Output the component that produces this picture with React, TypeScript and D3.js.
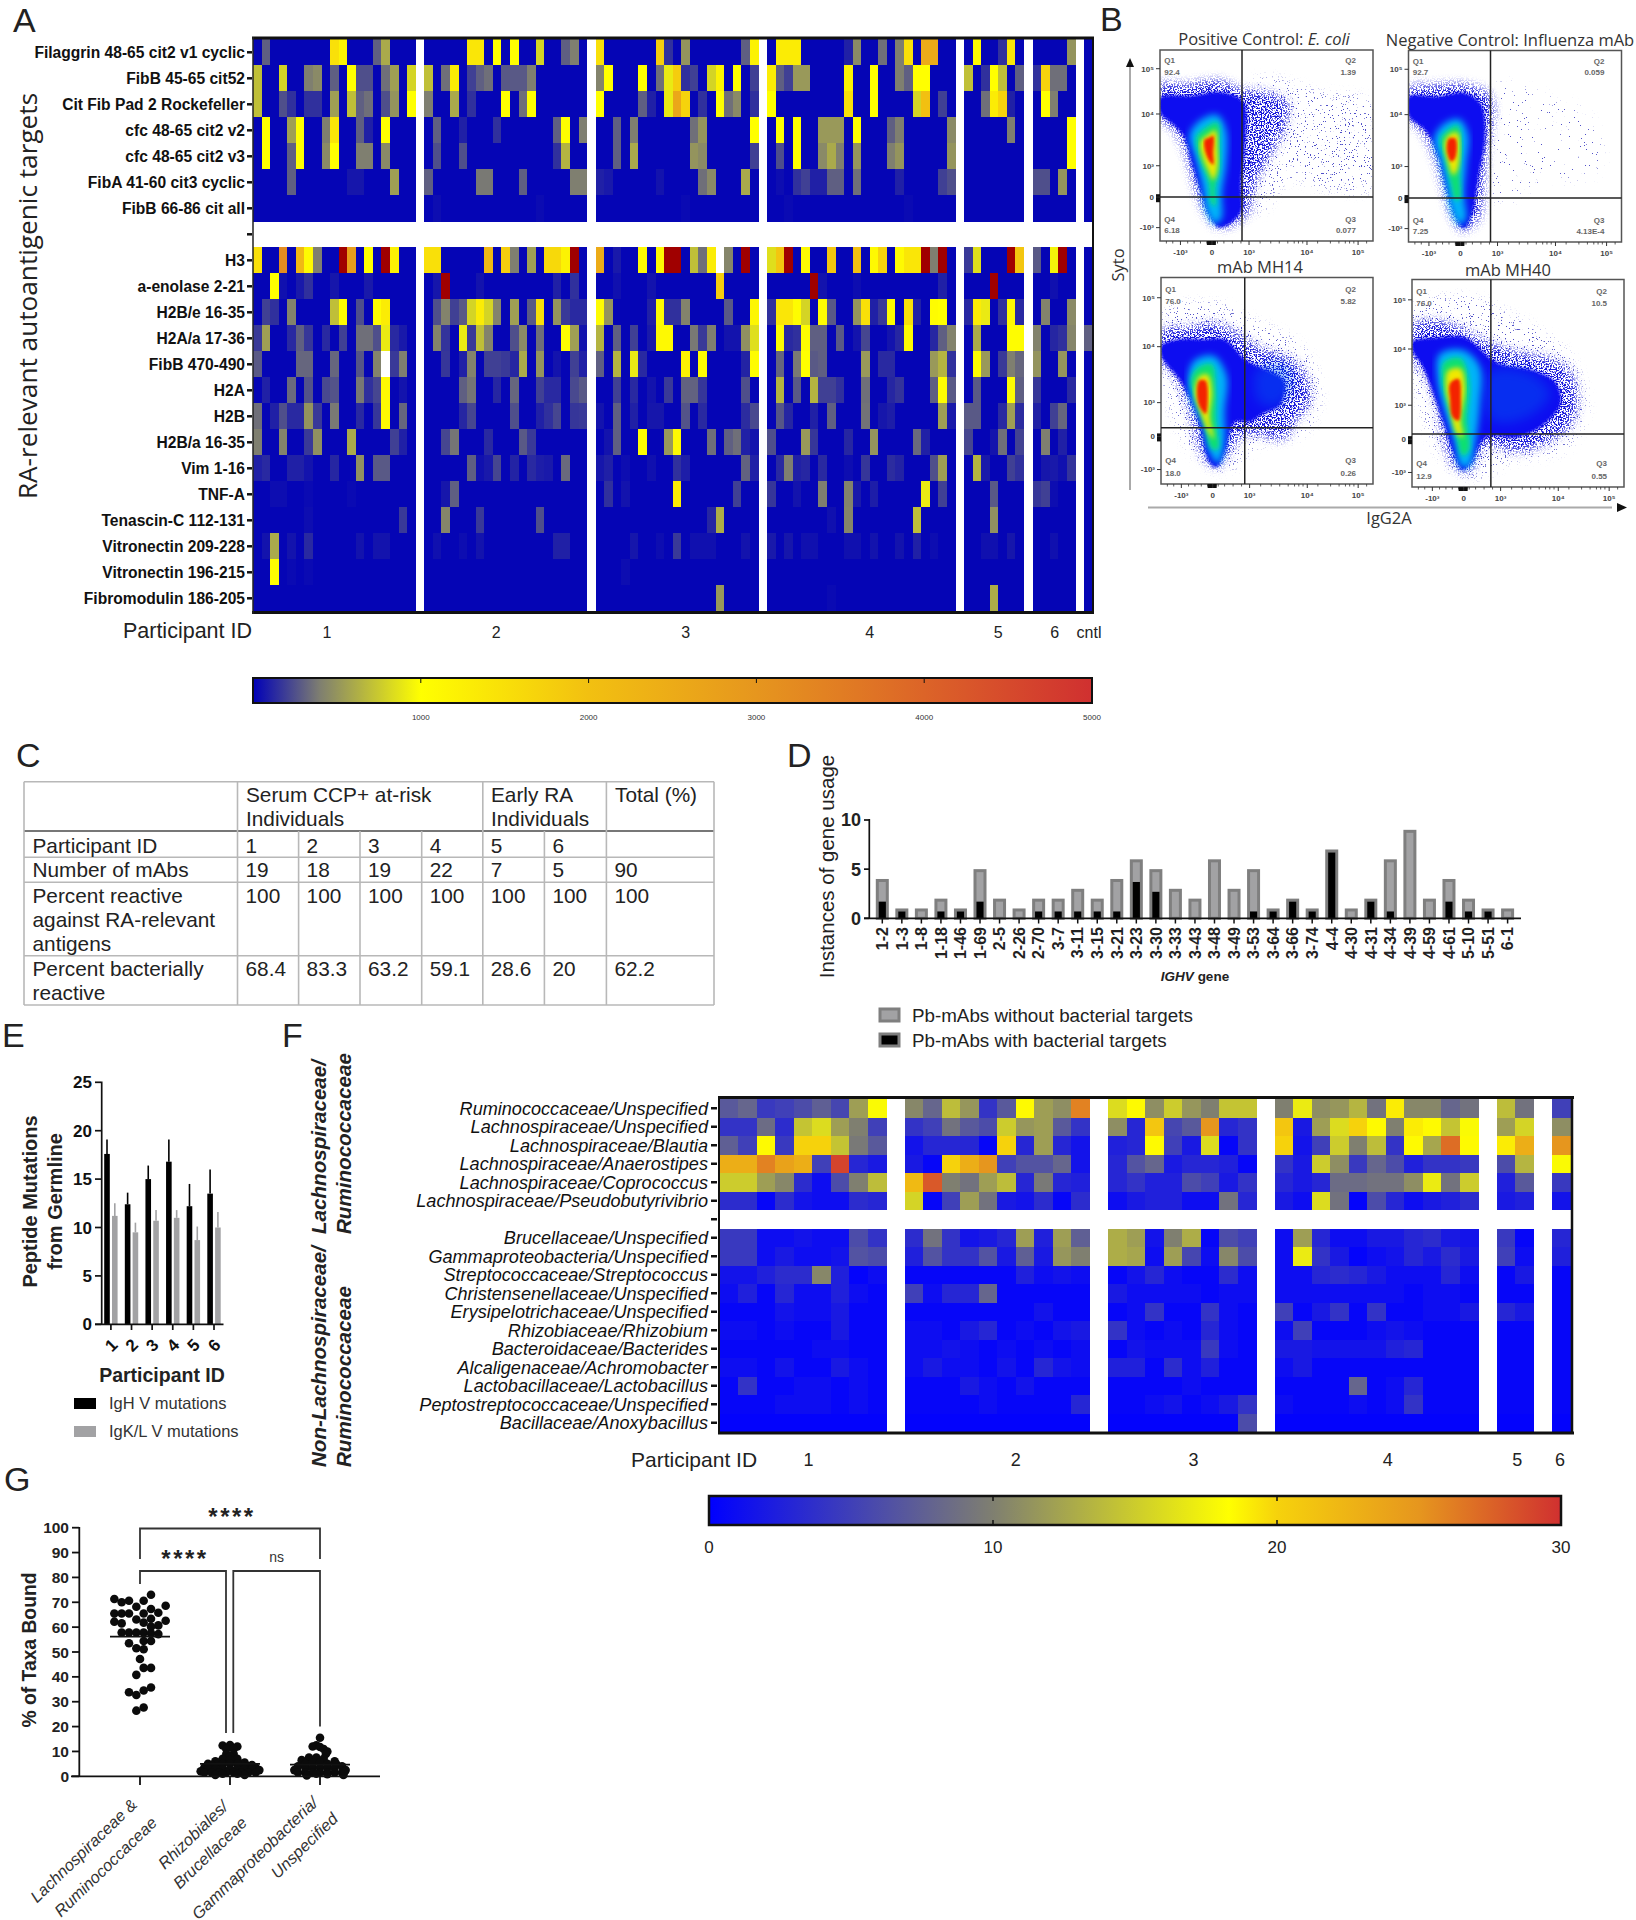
import * as d3 from 'd3';

const sans = '"Liberation Sans", Arial, sans-serif';
const narrow = '"Liberation Sans Narrow", "Liberation Sans", sans-serif';
const open = '"Open Sans", sans-serif';

// ---- Panel A: RA-relevant autoantigen heatmap (sparse: [slot, value], everything else is background) ----
const aBackground = 15;
const DARK = 6000; // above the colour bar
const WHITE = 9000; // blank cell
const filaggrin = [[1,300],[9,1500],[10,1200],[14,300],[15,600],[25,1400],[26,1400],[28,1000],[30,1000],[33,800],[36,300],[37,400],[40,1500],[47,1800],[48,150],[50,500],[57,300],[58,1200],[61,1300],[62,1300],[63,1300],[69,100],[70,450],[73,350],[75,400],[76,1500],[78,2500],[79,2500],[84,1100],[87,150],[88,1400],[95,500]];
const fibB45 = [[0,700],[3,800],[6,400],[7,450],[9,300],[11,1000],[12,250],[13,250],[15,350],[16,550],[18,800],[20,700],[22,350],[23,1300],[25,200],[26,300],[27,350],[29,280],[30,280],[31,280],[32,400],[40,420],[41,1000],[45,1000],[47,350],[48,900],[49,1800],[50,150],[51,200],[53,800],[54,1200],[56,1000],[58,200],[60,1300],[61,300],[62,200],[63,520],[64,520],[69,1200],[72,1000],[75,400],[76,300],[77,1000],[78,1000],[83,700],[85,150],[86,1000],[87,700],[89,300],[91,150],[92,1700],[93,350],[94,350]];
const citFib = [[0,700],[3,250],[4,150],[6,150],[7,150],[9,550],[11,700],[12,300],[13,350],[15,250],[16,500],[18,1000],[20,400],[23,600],[25,150],[29,1000],[31,350],[32,1000],[40,1000],[45,300],[46,100],[48,900],[49,2600],[50,1700],[52,150],[54,1000],[55,350],[56,450],[58,150],[60,1000],[69,1500],[72,1000],[77,800],[78,2000],[80,200],[85,350],[86,1300],[87,1700],[88,100],[92,1000],[93,400]];
const cfcV2 = [[1,1000],[4,550],[5,1000],[8,400],[9,1400],[12,300],[13,100],[15,1000],[21,300],[24,100],[28,150],[35,300],[36,1000],[38,400],[42,300],[44,400],[51,350],[52,500],[58,1000],[61,1000],[63,1000],[66,520],[67,520],[68,520],[70,1000],[74,300],[75,400],[81,450],[88,400],[95,1000]];
const cfcV3 = [[1,1000],[4,300],[5,1000],[8,450],[9,1000],[12,400],[13,400],[15,450],[21,250],[24,250],[35,150],[36,650],[42,300],[44,600],[51,500],[52,450],[58,200],[61,250],[63,1000],[66,450],[67,600],[68,400],[70,500],[74,400],[75,500],[81,500],[95,1000]];
const fibA41 = [[4,300],[11,70],[12,70],[16,550],[20,300],[26,380],[27,380],[31,300],[37,400],[38,400],[40,100],[41,80],[47,60],[52,350],[53,450],[57,600],[61,40],[63,150],[64,200],[65,100],[66,100],[67,300],[68,300],[70,350],[75,100],[80,200],[81,250],[91,250],[92,250],[94,500]];
const fibB66 = [[21,40],[33,35],[50,30],[62,30],[76,30]];
const h3 = [[0,1500],[3,3200],[5,2200],[6,1100],[7,400],[10,DARK],[11,2800],[13,1000],[15,DARK],[16,1200],[20,1500],[21,1500],[27,2200],[29,1800],[30,400],[32,550],[34,1600],[35,1600],[36,1200],[37,DARK],[40,2500],[42,80],[45,1100],[47,1100],[48,DARK],[49,DARK],[51,700],[52,350],[53,1300],[54,WHITE],[55,430],[57,DARK],[60,850],[61,1900],[62,DARK],[64,1100],[67,1900],[70,2000],[72,1100],[73,1700],[75,1100],[76,1400],[77,1400],[78,DARK],[79,400],[80,DARK],[83,180],[84,850],[88,DARK],[89,1900],[91,280],[93,950],[94,DARK]];
const enolase = [[2,1000],[3,50],[5,80],[6,150],[9,70],[13,80],[21,70],[22,DARK],[26,60],[35,100],[37,150],[42,50],[46,60],[54,1800],[65,DARK],[66,60],[70,40],[80,100],[86,DARK],[93,50]];
const h2bE = [[1,200],[2,150],[4,420],[9,700],[10,1050],[12,250],[14,1050],[15,1300],[21,250],[22,420],[23,200],[24,280],[25,800],[26,1300],[27,800],[28,420],[30,550],[32,280],[33,1500],[35,500],[36,180],[37,130],[38,130],[40,1050],[41,500],[46,100],[47,1050],[48,150],[49,150],[50,420],[55,280],[58,1150],[60,150],[61,1400],[62,1400],[63,1050],[64,800],[66,1050],[67,280],[70,500],[71,1500],[72,100],[73,180],[74,1050],[76,1500],[77,100],[79,1050],[80,1000],[83,120],[84,1300],[85,900],[87,150],[88,1100],[89,130],[92,420],[95,450]];
const h2aA = [[0,180],[1,550],[4,130],[5,300],[6,170],[8,130],[10,200],[12,350],[13,350],[14,250],[15,900],[16,130],[17,80],[21,420],[22,160],[24,900],[25,180],[26,700],[27,420],[30,250],[31,450],[33,350],[36,1050],[37,550],[38,60],[40,650],[42,300],[44,200],[46,80],[47,1100],[48,1100],[51,380],[52,180],[53,400],[55,60],[56,60],[57,480],[58,850],[61,1050],[62,130],[63,150],[64,1050],[65,300],[66,300],[68,280],[70,60],[71,220],[74,60],[75,120],[76,1050],[79,120],[80,300],[81,420],[84,600],[88,1050],[89,1050],[91,420],[93,120],[94,150],[95,430],[97,300]];
const fibB470 = [[0,280],[5,320],[6,320],[9,320],[12,270],[14,420],[15,WHITE],[16,180],[17,400],[22,170],[24,100],[25,420],[27,200],[28,200],[29,180],[30,120],[31,600],[33,500],[35,60],[37,200],[38,100],[40,300],[42,650],[44,900],[45,130],[50,1200],[52,1050],[57,110],[58,1050],[61,320],[63,380],[64,1000],[65,280],[66,300],[71,520],[73,130],[74,130],[79,520],[80,650],[81,150],[84,1050],[85,520],[87,180],[88,400],[89,320],[91,500],[94,500]];
const h2a = [[1,100],[4,330],[6,260],[8,230],[9,260],[12,380],[13,150],[14,220],[15,1100],[17,60],[24,300],[25,370],[28,120],[30,320],[33,200],[34,130],[35,130],[37,230],[38,280],[42,200],[44,130],[46,60],[48,180],[50,310],[51,310],[52,170],[57,250],[61,650],[63,280],[65,650],[66,200],[67,200],[68,150],[71,350],[74,120],[75,160],[79,300],[80,1050],[81,280],[84,280],[88,1050],[89,300],[91,170],[95,130]];
const h2b = [[0,350],[2,100],[3,250],[4,130],[5,130],[6,500],[7,180],[9,380],[12,130],[14,170],[15,1100],[17,320],[24,120],[25,220],[30,250],[33,100],[34,150],[35,220],[37,170],[38,180],[40,60],[42,300],[44,100],[46,70],[47,70],[50,260],[52,130],[57,140],[58,230],[61,270],[62,120],[65,100],[67,300],[71,360],[73,70],[74,90],[80,550],[81,80],[83,280],[84,280],[87,130],[88,550],[89,140],[91,100],[93,200],[94,320]];
const h2bA = [[0,400],[3,420],[6,180],[7,480],[11,600],[16,200],[17,100],[22,220],[23,370],[27,130],[31,280],[32,180],[41,60],[42,300],[45,1050],[48,520],[49,1100],[53,350],[55,300],[56,350],[57,100],[58,60],[60,250],[64,520],[65,170],[69,120],[72,500],[77,330],[78,100],[83,220],[86,60],[87,350],[89,210],[92,400],[94,100]];
const vim = [[0,100],[1,130],[4,100],[5,100],[6,60],[9,120],[12,480],[14,280],[15,280],[25,300],[26,50],[27,80],[28,220],[30,110],[32,130],[33,90],[34,80],[36,330],[40,70],[41,100],[43,40],[46,50],[49,150],[50,90],[57,310],[58,100],[61,130],[62,400],[63,100],[64,120],[66,130],[69,40],[71,170],[74,140],[75,110],[79,250],[80,550],[84,650],[85,80],[88,200],[89,150],[92,70],[93,80],[94,50],[95,160]];
const tnfA = [[2,40],[3,40],[6,30],[11,30],[22,70],[23,300],[41,150],[43,60],[49,1300],[56,200],[60,170],[63,60],[66,400],[69,420],[70,80],[72,90],[78,900],[80,200],[86,280],[91,170],[92,200],[93,40]];
const tenascin = [[6,40],[17,180],[22,430],[26,180],[33,250],[53,120],[54,620],[67,50],[69,430],[77,700],[86,480]];
const vitro209 = [[1,60],[2,600],[4,60],[6,130],[12,60],[14,60],[15,60],[21,50],[24,40],[26,60],[35,100],[36,100],[44,70],[47,40],[49,180],[51,50],[52,50],[53,50],[57,60],[60,80],[62,70],[64,50],[65,50],[69,50],[70,50],[72,60],[75,60],[77,100],[79,40],[85,50],[86,50],[88,70],[93,50]];
const vitro196 = [[2,1050],[4,30],[6,30],[43,40]];
const fibromodulin = [[54,520],[67,30],[86,620]];

const aRows = [
  { label: 'Filaggrin 48-65 cit2 v1 cyclic', cells: filaggrin },
  { label: 'FibB 45-65 cit52', cells: fibB45 },
  { label: 'Cit Fib Pad 2 Rockefeller', cells: citFib },
  { label: 'cfc 48-65 cit2 v2', cells: cfcV2 },
  { label: 'cfc 48-65 cit2 v3', cells: cfcV3 },
  { label: 'FibA 41-60 cit3 cyclic', cells: fibA41 },
  { label: 'FibB 66-86 cit all', cells: fibB66 },
  { label: '', cells: null },
  { label: 'H3', cells: h3 },
  { label: 'a-enolase 2-21', cells: enolase },
  { label: 'H2B/e 16-35', cells: h2bE },
  { label: 'H2A/a 17-36', cells: h2aA },
  { label: 'FibB 470-490', cells: fibB470 },
  { label: 'H2A', cells: h2a },
  { label: 'H2B', cells: h2b },
  { label: 'H2B/a 16-35', cells: h2bA },
  { label: 'Vim 1-16', cells: vim },
  { label: 'TNF-A', cells: tnfA },
  { label: 'Tenascin-C 112-131', cells: tenascin },
  { label: 'Vitronectin 209-228', cells: vitro209 },
  { label: 'Vitronectin 196-215', cells: vitro196 },
  { label: 'Fibromodulin 186-205', cells: fibromodulin },
];
const aGroupSizes = [19, 19, 19, 22, 7, 5, 1];
const aGroupNames = ['1', '2', '3', '4', '5', '6', 'cntl'];
const aGroupLabelSlots = [8.64, 28.4, 50.5, 72, 87, 93.6, 97.6];
const aBarTicks = [1000, 2000, 3000, 4000, 5000];
const aColorStops = [0, 400, 1000, 2000, 3000, 4000, 5000];
const aColors = ['#0000b8', '#7f7f70', '#ffff00', '#f2c011', '#e6961e', '#dc6428', '#d03030'];

// ---- Panel F: taxa heatmap (dense, one value per mAb) ----
const fLabels = ['Ruminococcaceae/Unspecified', 'Lachnospiraceae/Unspecified', 'Lachnospiraceae/Blautia', 'Lachnospiraceae/Anaerostipes', 'Lachnospiraceae/Coprococcus', 'Lachnospiraceae/Pseudobutyrivibrio', '', 'Brucellaceae/Unspecified', 'Gammaproteobacteria/Unspecified', 'Streptococcaceae/Streptococcus', 'Christensenellaceae/Unspecified', 'Erysipelotrichaceae/Unspecified', 'Rhizobiaceae/Rhizobium', 'Bacteroidaceae/Bacterides', 'Alcaligenaceae/Achromobacter', 'Lactobacillaceae/Lactobacillus', 'Peptostreptococcaceae/Unspecified', 'Bacillaceae/Anoxybacillus'];
const fRuminoUnspec = [7,8,4.5,5,6,7.5,5.5,12,18, 10.5,8,14,11.5,4,7,18.5,12,11,26, 16,18.5,11,15,11.5,10,14.5,14.5, 10,17,11,11.5,13.5,9,19,10.5,10.5,8,9, 14,9, 5];
const fLachnoUnspec = [4,4,8.5,3.5,14.5,16,12,10,5, 4,5,9,7,6,15,11.5,12,7,4, 11,3,21,5.5,7,25,3,4, 21,2,12,16,20,18.5,10,19,18.5,14.5,18, 12,15.5, 11];
const fBlautia = [7.5,5,18.5,4.5,20,20,14.5,9.5,7, 1.5,3,3,3,0.5,20,3,12,3,1.5, 2.5,3,18.5,5,2,16,0.5,4, 20,1.5,5,15,10,14,4,18.5,12.5,27,18.5, 19,23, 25];
const fAnaerostipes = [23,23,26,24,23,5,29,3,2, 2,0.5,20,23,25,5,6.5,6.5,8,1.5, 3,6.5,8,2,3,3,2.5,0.5, 4,2,15,11,4.5,8,6,2.5,4,4,4.5, 6,13.5, 18];
const fCoprococcus = [15,15,12,10.5,3.5,1,6,10,14, 22,28,10,9,12,14,3,9.5,3,2.5, 3,4,2.5,2.5,6,5,2,4, 3,2,3,8.5,8.5,9,9,11,17,9,15, 2.5,7, 4.5];
const fPseudo = [3.5,3.5,0.5,3.5,1.5,1,1,3.5,3, 15.5,0.5,5,12,9,2,1.5,3.5,0.5,3.5, 1,2,2.5,2.5,1,1,9,3, 2,1,16,9,0.3,6,3,1,2,2.5,3.5, 2,2.5, 1.5];
const fBrucella = [4.5,4.5,1,1,1.5,1,1,6,4, 3.5,9,4,1.5,2,3,12,2.5,12,7.5, 13,12,1.5,10,13,0.5,6,5, 1,12,3,1,1,2,2,3,3.5,2,1.5, 4.5,0.5, 3];
const fGamma = [4.5,4.5,1,2,1,1,1.5,6.5,6, 2.5,6.5,4,4,6.5,2,7.5,2,11.5,10, 13,12.5,1,12,5.5,1,10.5,6, 1,17,4,2,0.3,1,1.5,3,2,3.5,2, 5,1, 2.5];
const fStrepto = [1.5,1.5,2.5,3.5,3.5,10.5,2.5,0.3,1, 0.5,0.5,0.5,0.5,0.5,0.5,2.5,1,1.5,1, 0.5,1.5,3,1,0.5,0.5,3.5,1, 1,1,3,3.5,3,2,1,1,1,3,1, 0.5,2, 0.5];
const fChristen = [1,2.5,0.5,3,1,1,2.5,1,0.5, 5,1,3,3,8,0.5,0.5,0.5,0.5,0.5, 2,1,1,1,1,0.5,1,1, 1,1,1,1,1,1,1,0.5,1,1,0.5, 0.5,0.5, 0.5];
const fErysip = [0.5,0.5,0.5,1.5,1,1,2,0.5,0.5, 0.5,0.5,0.5,0.5,0.5,0.5,0.5,1.5,0.5,0.5, 0.5,1,4,0.5,0.5,4,1,0.5, 5,0.5,2,4,0.5,4,0.5,0.5,1,1,2, 3,2, 0.5];
const fRhizob = [1,1,0.5,1,0.5,0.5,2,0.5,0.5, 1,1,0.5,2,3,0.5,1,0.5,1.5,2, 4,1,0.5,1,0.5,3,1,0.5, 1,5,0.5,0.5,0.5,1,1.5,1,0.5,0.5,0.5, 0.5,0.5, 0.5];
const fBacter = [0.5,0.5,0.5,0.5,0.5,1,1,0.5,0.5, 1,1,1.5,1,0.5,1,0.5,1,0.5,1, 0.5,1.5,1,1,1,4.5,1,0.5, 2,2,1.5,1.5,1.5,1.5,2.5,3,0.5,0.5,0.5, 0.5,0.5, 0.5];
const fAlcalig = [1,1,0.5,1.5,0.5,0.5,2,1,0.5, 1,2,1,1,0.5,1.5,0.5,3,1.5,1, 2.5,2.5,0.5,3.5,1,2.5,0.5,0.5, 1,2,0.5,0.5,0.5,0.5,0.5,0.5,0.5,0.5,0.5, 0.5,0.5, 0.5];
const fLacto = [0.5,4,0.5,0.5,1,1,0.5,1,0.5, 0.5,0.5,0.5,2,1,0.5,1.5,0.5,0.5,0.5, 0.5,0.5,0.5,0.5,1,0.5,0.5,0.5, 0.5,0.5,0.5,0.5,8,0.5,1,3,0.5,0.5,0.5, 0.5,0.5, 0.5];
const fPepto = [0.5,0.5,0.5,1,1,1,0.5,1,0.5, 0.5,0.5,0.5,0.5,1,0.5,0.5,0.5,0.5,3, 0.5,0.5,1,1.5,0.5,1,2,4, 1,0.5,0.5,0.5,1,0.5,1,4,0.5,0.5,0.5, 0.5,0.5, 0.5];
const fBacill = [0.2,0.2,0.2,0.2,0.2,0.2,0.2,0.2,0.2, 0.2,0.2,0.2,0.2,0.2,0.2,0.2,0.2,0.2,0.2, 0.2,0.2,0.2,0.2,0.2,0.2,0.2,6, 0.2,0.2,0.2,0.2,0.2,0.2,0.2,0.2,0.2,0.2,0.2, 0.2,0.2, 0.2];
const fValues = [fRuminoUnspec, fLachnoUnspec, fBlautia, fAnaerostipes, fCoprococcus, fPseudo, null, fBrucella, fGamma, fStrepto, fChristen, fErysip, fRhizob, fBacter, fAlcalig, fLacto, fPepto, fBacill];
const fGroupSizes = [9, 10, 8, 11, 2, 1];
const fGroupNames = ['1', '2', '3', '4', '5', '6'];
const fGroupLabelSlots = [4.8, 16, 25.6, 36.1, 43.1, 45.4];
const fBarTicks = [0, 10, 20, 30];
const fColorStops = [0, 10, 18.3, 20, 25, 30];
const fColors = ['#0000ff', '#7f7f70', '#ffff00', '#f6d20c', '#e6961e', '#d03030'];

// ---- Panel B: flow plots, density outlines in % of the frame ----
const flowXTicks = [[9.6, '-10³'], [24.4, '0'], [41.8, '10³'], [69, '10⁴'], [93, '10⁵']];
const flowYTicks = [[9.8, '10⁵'], [33.5, '10⁴'], [60.6, '10³'], [77, '0'], [93, '-10³']];
const flowMinor = [3, 6, 13, 16, 19, 22, 23, 24, 25, 26, 27, 30, 34, 38, 47, 52, 56, 60, 63, 65, 67, 74, 80, 84, 87, 89, 91, 97];
const ecoliSparse = [[45,16],[75,22],[100,28],[100,72],[75,72],[60,68],[47,85],[42,80]];
const ecoliHalo = [[0,18],[12,18],[28,16],[39,21],[50,22],[60,28],[58,42],[50,58],[44,72],[41,86],[28,93],[22,87],[17,74],[12,54],[6,41],[0,36]];
const ecoliBlue = [[0,25],[15,24],[28,22],[39,27],[40,50],[38,70],[38,85],[28,93],[23,86],[19,74],[15,60],[11,45],[5,38],[0,33]];
const ecoliCyan = [[20,36],[27,34],[31,42],[31,60],[29,75],[29,88],[26,91],[22,85],[20,72],[17,58],[14,44]];
const ecoliGreen = [[21,41],[27,38],[28,50],[28,62],[26,72],[26,82],[24,80],[23,70],[19,58],[17,46]];
const ecoliYellow = [[23,44],[26,42],[27,52],[27,62],[25,68],[23,64],[20,56],[19,48]];
const ecoliRed = [[23,46],[25,45],[25,54],[25,60],[23,58],[21,52],[21,47]];
const fluSparse = [[42,18],[60,22],[85,35],[90,62],[60,70],[42,80]];
const fluHalo = [[0,20],[12,18],[28,18],[37,22],[40,30],[37,50],[35,72],[33,88],[25,94],[21,88],[17,75],[12,55],[6,42],[0,36]];
const fluBlue = [[0,24],[14,24],[26,22],[34,28],[36,45],[33,65],[30,85],[26,93],[22,86],[18,72],[13,52],[8,42],[0,34]];
const fluCyan = [[17,38],[24,36],[28,44],[27,60],[26,75],[27,88],[24,91],[20,83],[18,72],[15,58],[12,46]];
const fluGreen = [[18,42],[23,39],[25,50],[24,62],[24,78],[22,78],[20,70],[17,56],[15,46]];
const fluYellow = [[19,44],[23,43],[24,52],[23,62],[21,65],[18,56],[17,48]];
const fluRed = [[19,46],[22,46],[22,56],[20,58],[18,52]];
const mh14Sparse = [[0,18],[25,12],[42,20],[68,35],[75,58],[68,75],[45,82],[30,94],[15,85],[0,45]];
const mh14Halo = [[0,26],[15,24],[25,22],[40,30],[48,35],[60,39],[68,47],[70,60],[63,70],[58,78],[40,76],[30,88],[27,92],[20,87],[16,75],[12,60],[6,47],[0,40]];
const mh14Blue = [[0,33],[8,30],[20,30],[30,30],[40,40],[48,44],[58,50],[56,62],[48,66],[42,70],[35,70],[30,85],[26,92],[22,88],[19,75],[15,62],[9,50],[0,38]];
const mh14Lobe = [[45,45],[58,42],[62,52],[55,62],[46,60]];
const mh14Cyan = [[16,40],[25,38],[31,48],[30,65],[30,80],[27,90],[23,85],[20,72],[14,58],[13,47]];
const mh14Green = [[17,44],[24,42],[26,55],[26,68],[27,83],[24,83],[20,70],[16,58],[14,50]];
const mh14Yellow = [[18,48],[22,47],[24,55],[23,68],[25,78],[23,76],[19,66],[16,56]];
const mh14Red = [[18,50],[21,50],[22,60],[21,66],[18,62],[17,55]];
const mh40Sparse = [[0,14],[25,8],[45,16],[70,32],[80,48],[82,65],[72,82],[45,88],[30,96],[15,88],[0,42]];
const mh40Halo = [[0,22],[10,20],[20,22],[35,30],[50,35],[65,38],[74,44],[78,55],[76,68],[68,76],[50,83],[35,80],[28,92],[25,93],[20,90],[15,78],[12,62],[6,45],[0,38]];
const mh40Blue = [[0,30],[12,28],[25,28],[40,40],[58,44],[68,50],[70,60],[62,70],[50,76],[35,76],[28,88],[24,92],[20,85],[15,70],[10,55],[5,42],[0,34]];
const mh40Lobe = [[36,45],[55,45],[65,55],[55,66],[38,68]];
const mh40Cyan = [[13,36],[24,34],[32,42],[32,60],[30,78],[27,90],[23,90],[20,78],[15,62],[12,48]];
const mh40Green = [[15,40],[23,38],[27,50],[26,68],[27,82],[24,85],[20,72],[16,58],[14,48]];
const mh40Yellow = [[17,44],[23,43],[25,52],[23,68],[24,76],[21,74],[18,62],[16,52]];
const mh40Red = [[18,50],[22,48],[23,58],[22,68],[19,66],[18,58]];

// ---- Panel C ----
const tableParticipants = ['1', '2', '3', '4', '5', '6', ''];
const tableMabs = ['19', '18', '19', '22', '7', '5', '90'];
const tableReactive = ['100', '100', '100', '100', '100', '100', '100'];
const tableBacterial = ['68.4', '83.3', '63.2', '59.1', '28.6', '20', '62.2'];

// ---- Panel D ----
const ighvGenes = ['1-2','1-3','1-8','1-18','1-46','1-69','2-5','2-26','2-70','3-7','3-11','3-15','3-21','3-23','3-30','3-33','3-43','3-48','3-49','3-53','3-64','3-66','3-74','4-4','4-30','4-31','4-34','4-39','4-59','4-61','5-10','5-51','6-1'];
const ighvTotal = [4,1,1,2,1,5,2,1,2,2,3,2,4,6,5,3,2,6,3,5,1,2,1,7,1,2,6,9,2,4,2,1,1];
const ighvBacterial = [2,1,0,1,1,2,0,0,1,1,1,1,1,4,3,0,0,0,0,1,1,2,1,7,0,2,1,0,0,2,1,1,0];

// ---- Panel E ----
const mutationIds = ['1', '2', '3', '4', '5', '6'];
const heavyMean = [17.6, 12.4, 15, 16.8, 12.2, 13.5];
const heavyTop = [19.1, 13.6, 16.4, 19.1, 14.5, 16];
const lightMean = [11.2, 9.5, 10.7, 11, 8.7, 10];
const lightTop = [12.5, 10.5, 11.8, 11.8, 10.1, 11.6];

// ---- Panel G: [swarm slot, % bound] ----
const taxaLachno = [[-3.5,71.3],[-2.5,70],[-1.5,70.6],[0.5,70.6],[1.5,73],[-0.5,68.2],[3.5,68.6],[-3.5,65.5],[-2.5,65.5],[-1.5,65.5],[0.5,65.5],[1.5,67.3],[2.5,65.8],[-0.5,63.1],[1.5,63.4],[3.5,62.6],[-3.5,62.2],[-2.5,61.5],[0.5,61.8],[2.5,60.7],[1.5,60.2],[-2.5,57.8],[-1.5,57.8],[-0.5,57.8],[0.5,57.8],[1.5,57.5],[2.5,57.2],[0.5,54.4],[1.5,54.4],[-1.5,53.5],[-0.5,51.5],[0.5,51.1],[0,47.2],[-0.5,40.8],[0.5,43.6],[1.5,43.6],[-1.5,33.8],[-0.5,32.7],[0.5,34.5],[1.5,35.7],[-0.5,26.4],[0.5,27.7]];
const taxaBrucella = [[-1,12.4],[0,12.6],[1,12],[-0.5,11],[0.5,11],[-0.5,9],[0.5,9],[0,8],[-1,7],[1,7],[0,6.5],[-2,6],[2,5.5],[-1.5,5.5],[1.5,5],[-3,5],[3,4.5],[-2.5,4.5],[2.5,4],[-1,5],[1,5],[0,5],[-3.5,3.5],[3.5,3.5],[-3,3],[-2,3],[-1,3],[0,3],[1,3],[2,3],[3,3],[-4,2],[4,2.5],[-3.5,1.5],[-2.5,1.5],[-1.5,1.5],[-0.5,1.5],[0.5,1.5],[1.5,1.5],[2.5,1.5],[3.5,1.5],[-2,0.5],[2,0.5],[-1,1],[1,1]];
const taxaGamma = [[0,15.5],[-0.5,12.5],[-1,12],[0,11.8],[0.5,11],[1,10],[0.8,9],[-2.5,6.5],[2,6],[-1.5,7.5],[-0.5,7.5],[0.5,7],[-2,5],[-1,5.5],[0,5.5],[1,5],[2.2,5],[3,4],[-3,4],[-2,3.5],[-1,3.5],[0,3.5],[1,3.5],[2,3.5],[-3.5,2.5],[3.5,2.5],[-3,1.5],[-2,1.5],[-1,1.5],[0,1.5],[1,1.5],[2,1.5],[3,1.5],[-1.8,0.3],[3.2,0.5],[-0.5,1],[1,0.8],[3.3,1.7]];
const taxaMeans = [56.2, 5, 4.7];
const taxaTicks = d3.range(0, 101, 10);

const colorA = d3.scaleLinear().domain(aColorStops).range(aColors).clamp(true);
const colorF = d3.scaleLinear().domain(fColorStops).range(fColors).clamp(true);
const aFill = (v) => (v >= WHITE ? '#fff' : v > 5000 ? '#a00000' : colorA(v));

function slotsFromGroups(sizes) {
  const slots = [];
  let at = 0;
  sizes.forEach((n) => {
    d3.range(n).forEach((i) => slots.push(at + i));
    at += n + 1;
  });
  return slots;
}

function Letter({ x, y, children }) {
  return <text x={x} y={y} fontFamily={sans} fontSize={34} fill="#222">{children}</text>;
}

function PanelA() {
  const slots = slotsFromGroups(aGroupSizes);
  const x = d3.scaleBand().domain(d3.range(98)).range([253, 1092.5]);
  const y = d3.scaleBand().domain(d3.range(aRows.length)).range([39.3, 611.3]);
  const slotX = d3.scaleLinear().domain([0, 98]).range([253, 1092.5]);
  const barX = d3.scaleLinear().domain([0, 5000]).range([253, 1092]);
  return (
    <g shapeRendering="crispEdges">
      {aRows.map((row, r) => {
        if (!row.cells) return null;
        const byslot = new Map(row.cells);
        return slots.map((s) => (
          <rect key={`${r}-${s}`} x={x(s)} y={y(r)} width={x.bandwidth() + 0.4} height={y.bandwidth() + 0.4} fill={aFill(byslot.get(s) ?? aBackground)} />
        ));
      })}
      <g shapeRendering="auto">
        <line x1={252} x2={1094} y1={38} y2={38} stroke="#111" strokeWidth={3} />
        <line x1={252} x2={1094} y1={612.5} y2={612.5} stroke="#111" strokeWidth={3} />
        <line x1={253} x2={253} y1={37} y2={614} stroke="#222" strokeWidth={1.5} />
        <line x1={1093} x2={1093} y1={37} y2={614} stroke="#111" strokeWidth={2} />
        {aRows.map((row, r) => (
          <g key={r} transform={`translate(0,${y(r) + y.bandwidth() / 2})`}>
            <line x1={247} x2={252} stroke="#111" strokeWidth={2.5} />
            <text x={245} dy="0.35em" textAnchor="end" fontFamily={sans} fontWeight="bold" fontSize={15.6} fill="#111">{row.label}</text>
          </g>
        ))}
        <text transform="translate(37,296) rotate(-90)" textAnchor="middle" fontFamily={open} fontSize={26.2} fill="#222">RA-relevant autoantigenic targets</text>
        <text x={252} y={638} textAnchor="end" fontFamily={sans} fontSize={21.5} fill="#222">Participant ID</text>
        {aGroupNames.map((g, i) => (
          <text key={g} x={slotX(aGroupLabelSlots[i])} y={638} textAnchor="middle" fontFamily={sans} fontSize={16} fill="#222">{g}</text>
        ))}
        <rect x={253} y={678} width={839} height={25} fill="url(#gradA)" stroke="#111" strokeWidth={2} />
        {aBarTicks.map((t) => (
          <g key={t}>
            <line x1={barX(t)} x2={barX(t)} y1={678} y2={683} stroke="#111" />
            <text x={barX(t)} y={720} textAnchor="middle" fontFamily={narrow} fontSize={8} fill="#333">{t}</text>
          </g>
        ))}
      </g>
    </g>
  );
}

function FlowPanel({ frame, vLine, hLine, quads, shapes, title, titleX, titleY, rare }) {
  const x = d3.scaleLinear().domain([0, 100]).range([frame.left, frame.right]);
  const y = d3.scaleLinear().domain([0, 100]).range([frame.top, frame.bottom]);
  const path = d3.line().x((d) => x(d[0])).y((d) => y(d[1])).curve(d3.curveCatmullRomClosed.alpha(0.5));
  const clip = `clip-${frame.left}`;
  const w = frame.right - frame.left;
  const h = frame.bottom - frame.top;
  return (
    <g>
      <clipPath id={clip}><rect x={frame.left} y={frame.top} width={w} height={h} /></clipPath>
      <g clipPath={`url(#${clip})`}>
        <path d={path(shapes.sparse)} fill="#5050c8" filter={`url(#${rare ? 'speckleRare' : 'speckleThin'})`} />
        <path d={path(shapes.halo)} fill="#1818dc" filter="url(#speckle)" />
        <path d={path(shapes.blue)} fill="#0808f0" filter="url(#soft2)" />
        {shapes.lobe && <path d={path(shapes.lobe)} fill="#0060f0" opacity={0.4} filter="url(#soft6)" />}
        <path d={path(shapes.cyan)} fill="#00b4f8" filter="url(#soft4)" />
        <path d={path(shapes.green)} fill="#10e070" filter="url(#soft3)" />
        <path d={path(shapes.yellow)} fill="#f0e800" filter="url(#soft3)" />
        <path d={path(shapes.red)} fill="#f42000" filter="url(#soft2)" />
      </g>
      <rect x={frame.left} y={frame.top} width={w} height={h} fill="none" stroke="#555" strokeWidth={1.5} />
      <line x1={x(vLine)} x2={x(vLine)} y1={frame.top} y2={frame.bottom} stroke="#222" strokeWidth={1.5} />
      <line x1={frame.left} x2={frame.right} y1={y(hLine)} y2={y(hLine)} stroke="#222" strokeWidth={1.5} />
      {flowMinor.map((t) => (
        <line key={t} x1={x(t)} x2={x(t)} y1={frame.bottom} y2={frame.bottom + 2.5} stroke="#333" strokeWidth={0.8} />
      ))}
      <rect x={x(22)} y={frame.bottom} width={9} height={4} fill="#111" />
      <rect x={frame.left - 4} y={y(75.5)} width={4} height={8} fill="#111" />
      {flowXTicks.map(([t, label]) => (
        <g key={label}>
          <line x1={x(t)} x2={x(t)} y1={frame.bottom} y2={frame.bottom + 4} stroke="#333" />
          <text x={x(t)} y={frame.bottom + 14} textAnchor="middle" fontFamily={sans} fontWeight="bold" fontSize={8} fill="#444">{label}</text>
        </g>
      ))}
      {flowYTicks.map(([t, label]) => (
        <g key={label}>
          <line x1={frame.left - 4} x2={frame.left} y1={y(t)} y2={y(t)} stroke="#333" />
          <text x={frame.left - 6} y={y(t)} dy="0.35em" textAnchor="end" fontFamily={sans} fontWeight="bold" fontSize={8} fill="#444">{label}</text>
        </g>
      ))}
      <g fontFamily={sans} fontWeight="bold" fontSize={8} fill="#666">
        <text x={x(2)} y={y(7)}>Q1</text>
        <text x={x(2)} y={y(13)}>{quads[0]}</text>
        <text x={x(92)} y={y(7)} textAnchor="end">Q2</text>
        <text x={x(92)} y={y(13)} textAnchor="end">{quads[1]}</text>
        <text x={x(92)} y={y(90)} textAnchor="end">Q3</text>
        <text x={x(92)} y={y(96)} textAnchor="end">{quads[2]}</text>
        <text x={x(2)} y={y(90)}>Q4</text>
        <text x={x(2)} y={y(96)}>{quads[3]}</text>
      </g>
      <text x={titleX} y={titleY} textAnchor="middle" fontFamily={open} fontSize={16.5} fill="#333">{title}</text>
    </g>
  );
}

function PanelB() {
  return (
    <g>
      <FlowPanel
        frame={{ left: 1160, right: 1373, top: 50, bottom: 241 }} vLine={38.5} hLine={77}
        quads={['92.4', '1.39', '0.077', '6.18']}
        shapes={{ sparse: ecoliSparse, halo: ecoliHalo, blue: ecoliBlue, cyan: ecoliCyan, green: ecoliGreen, yellow: ecoliYellow, red: ecoliRed }}
        title={<>Positive Control: <tspan fontStyle="italic">E. coli</tspan></>} titleX={1264} titleY={45}
      />
      <FlowPanel
        frame={{ left: 1408.5, right: 1621.5, top: 50.5, bottom: 242 }} vLine={38.5} hLine={77} rare
        quads={['92.7', '0.059', '4.13E-4', '7.25']}
        shapes={{ sparse: fluSparse, halo: fluHalo, blue: fluBlue, cyan: fluCyan, green: fluGreen, yellow: fluYellow, red: fluRed }}
        title="Negative Control: Influenza mAb" titleX={1510} titleY={46}
      />
      <FlowPanel
        frame={{ left: 1161, right: 1373, top: 277.5, bottom: 484 }} vLine={39.5} hLine={72.7}
        quads={['76.0', '5.82', '0.26', '18.0']}
        shapes={{ sparse: mh14Sparse, halo: mh14Halo, blue: mh14Blue, lobe: mh14Lobe, cyan: mh14Cyan, green: mh14Green, yellow: mh14Yellow, red: mh14Red }}
        title="mAb MH14" titleX={1260} titleY={273}
      />
      <FlowPanel
        frame={{ left: 1412, right: 1624, top: 279.5, bottom: 487 }} vLine={37.2} hLine={74.5}
        quads={['76.0', '10.5', '0.55', '12.9']}
        shapes={{ sparse: mh40Sparse, halo: mh40Halo, blue: mh40Blue, lobe: mh40Lobe, cyan: mh40Cyan, green: mh40Green, yellow: mh40Yellow, red: mh40Red }}
        title="mAb MH40" titleX={1508} titleY={276}
      />
      <line x1={1130} x2={1130} y1={66} y2={490} stroke="#aaa" strokeWidth={2} />
      <path d="M1130 58 L1126 67 L1134 67 Z" fill="#111" />
      <line x1={1148} x2={1612} y1={507.5} y2={507.5} stroke="#aaa" strokeWidth={2} />
      <path d="M1627 507.5 L1617 503 L1617 512 Z" fill="#111" />
      <text transform="translate(1124,265) rotate(-90)" textAnchor="middle" fontFamily={open} fontSize={16.5} fill="#333">Syto</text>
      <text x={1389} y={524} textAnchor="middle" fontFamily={open} fontSize={16.5} fill="#333">IgG2A</text>
    </g>
  );
}

function PanelC() {
  const colX = [24, 237.5, 298.6, 360, 421.7, 482.8, 544.4, 606.4, 714];
  const rowY = [781.7, 831, 857.3, 882.3, 955.7, 1005];
  const text = (x, y, s, key) => (
    <text key={key} x={x} y={y} dy="0.35em" fontFamily={sans} fontSize={20.8} fill="#222">{s}</text>
  );
  const dataRow = (values, y, name) => values.map((v, i) => text(colX[i + 1] + 8, y, v, `${name}-${i}`));
  return (
    <g>
      {rowY.map((y, i) => (
        <line key={i} x1={colX[0]} x2={colX[8]} y1={y} y2={y} stroke={i === 1 ? '#777' : '#b8b8b8'} strokeWidth={i === 1 ? 2 : 1.6} />
      ))}
      {[0, 1, 5, 7, 8].map((c) => (
        <line key={c} x1={colX[c]} x2={colX[c]} y1={rowY[0]} y2={rowY[5]} stroke="#b8b8b8" strokeWidth={1.6} />
      ))}
      {[2, 3, 4, 6].map((c) => (
        <line key={c} x1={colX[c]} x2={colX[c]} y1={rowY[1]} y2={rowY[5]} stroke="#b8b8b8" strokeWidth={1.6} />
      ))}
      {text(246, 795, 'Serum CCP+ at-risk', 'h1')}
      {text(246, 819, 'Individuals', 'h2')}
      {text(491, 795, 'Early RA', 'h3')}
      {text(491, 819, 'Individuals', 'h4')}
      {text(615, 795, 'Total (%)', 'h5')}
      {text(32.5, 845.7, 'Participant ID', 'r1')}
      {text(32.5, 870, 'Number of mAbs', 'r2')}
      {text(32.5, 895.7, 'Percent reactive', 'r3a')}
      {text(32.5, 920, 'against RA-relevant', 'r3b')}
      {text(32.5, 944, 'antigens', 'r3c')}
      {text(32.5, 968.7, 'Percent bacterially', 'r4a')}
      {text(32.5, 993, 'reactive', 'r4b')}
      {dataRow(tableParticipants, 845.7, 'p')}
      {dataRow(tableMabs, 870, 'm')}
      {dataRow(tableReactive, 895.7, 'a')}
      {dataRow(tableBacterial, 968.7, 'b')}
    </g>
  );
}

function PanelD() {
  const x = d3.scalePoint().domain(ighvGenes).range([882.3, 1507.6]);
  const y = d3.scaleLinear().domain([0, 10]).range([918.3, 820]);
  return (
    <g>
      {ighvGenes.map((g, i) => (
        <g key={g}>
          <rect x={x(g) - 5} y={y(ighvTotal[i]) + 1.5} width={10} height={Math.max(y(0) - y(ighvTotal[i]) - 1.5, 0)} fill="#a2a2a4" stroke="#7f7f7f" strokeWidth={3} />
          {ighvBacterial[i] > 0 && (
            <rect x={x(g) - 3.6} y={y(ighvBacterial[i]) + 3} width={7.2} height={y(0) - y(ighvBacterial[i]) - 3} fill="#000" />
          )}
          <line x1={x(g)} x2={x(g)} y1={918.3} y2={923.5} stroke="#111" strokeWidth={1.5} />
          <text transform={`translate(${x(g)},927) rotate(-90)`} dy="0.36em" textAnchor="end" fontFamily={sans} fontWeight="bold" fontSize={16} fill="#222">{g}</text>
        </g>
      ))}
      <line x1={869.3} x2={869.3} y1={819} y2={919} stroke="#111" strokeWidth={1.7} />
      <line x1={864} x2={1521} y1={918.3} y2={918.3} stroke="#111" strokeWidth={1.7} />
      {[0, 5, 10].map((t) => (
        <g key={t}>
          <line x1={864} x2={869} y1={y(t)} y2={y(t)} stroke="#111" strokeWidth={1.7} />
          <text x={861} y={y(t)} dy="0.36em" textAnchor="end" fontFamily={narrow} fontWeight="bold" fontSize={18} fill="#222">{t}</text>
        </g>
      ))}
      <text transform="translate(826.7,866.5) rotate(-90)" dy="0.36em" textAnchor="middle" fontFamily={sans} fontSize={20.5} fill="#222">Instances of gene usage</text>
      <text x={1195} y={976} dy="0.35em" textAnchor="middle" fontFamily={sans} fontWeight="bold" fontSize={13.5} fill="#222"><tspan fontStyle="italic">IGHV</tspan> gene</text>
      <rect x={880} y={1009} width={19} height={12} fill="#a2a2a4" stroke="#7f7f7f" strokeWidth={3} />
      <rect x={880} y={1034} width={19} height={12} fill="#000" stroke="#7f7f7f" strokeWidth={3} />
      <text x={912} y={1015} dy="0.35em" fontFamily={sans} fontSize={18.8} fill="#222">Pb-mAbs without bacterial targets</text>
      <text x={912} y={1040} dy="0.35em" fontFamily={sans} fontSize={18.8} fill="#222">Pb-mAbs with bacterial targets</text>
    </g>
  );
}

function PanelE() {
  const x = d3.scalePoint().domain(mutationIds).range([110.9, 214]);
  const y = d3.scaleLinear().domain([0, 25]).range([1324.3, 1082.3]);
  const bar = (id, i, mean, top, offset, color) => (
    <g key={`${id}-${color}`}>
      <rect x={x(id) + offset - 2.8} y={y(mean)} width={5.6} height={y(0) - y(mean)} fill={color} />
      <line x1={x(id) + offset} x2={x(id) + offset} y1={y(top)} y2={y(mean)} stroke={color} strokeWidth={1.6} />
    </g>
  );
  return (
    <g>
      {mutationIds.map((id, i) => bar(id, i, heavyMean[i], heavyTop[i], -3.9, '#000'))}
      {mutationIds.map((id, i) => bar(id, i, lightMean[i], lightTop[i], 3.9, '#a2a2a4'))}
      <line x1={101.7} x2={101.7} y1={1081.5} y2={1325} stroke="#111" strokeWidth={1.7} />
      <line x1={95} x2={223.5} y1={1324.3} y2={1324.3} stroke="#111" strokeWidth={1.7} />
      {d3.range(0, 26, 5).map((t) => (
        <g key={t}>
          <line x1={95} x2={101} y1={y(t)} y2={y(t)} stroke="#111" strokeWidth={1.7} />
          <text x={92} y={y(t)} dy="0.36em" textAnchor="end" fontFamily={sans} fontWeight="bold" fontSize={17} fill="#111">{t}</text>
        </g>
      ))}
      {mutationIds.map((id) => (
        <g key={id}>
          <line x1={x(id)} x2={x(id)} y1={1324.3} y2={1330} stroke="#111" strokeWidth={1.7} />
          <text transform={`translate(${x(id)},1345) rotate(-45)`} dy="0.36em" textAnchor="middle" fontFamily={sans} fontWeight="bold" fontSize={17} fill="#111">{id}</text>
        </g>
      ))}
      <text transform="translate(30,1201.5) rotate(-90)" dy="0.36em" textAnchor="middle" fontFamily={sans} fontWeight="bold" fontSize={20} fill="#222">Peptide Mutations</text>
      <text transform="translate(55,1201.5) rotate(-90)" dy="0.36em" textAnchor="middle" fontFamily={sans} fontWeight="bold" fontSize={20} fill="#222">from Germline</text>
      <text x={162} y={1375} dy="0.36em" textAnchor="middle" fontFamily={sans} fontWeight="bold" fontSize={19.5} fill="#222">Participant ID</text>
      <rect x={74} y={1398} width={22} height={11} fill="#000" />
      <rect x={74} y={1426} width={22} height={11} fill="#a2a2a4" />
      <text x={109} y={1403} dy="0.36em" fontFamily={sans} fontSize={16.5} fill="#333">IgH V mutations</text>
      <text x={109} y={1431} dy="0.36em" fontFamily={sans} fontSize={16.5} fill="#333">IgK/L V mutations</text>
    </g>
  );
}

function PanelF() {
  const slots = slotsFromGroups(fGroupSizes);
  const x = d3.scaleBand().domain(d3.range(46)).range([719.6, 1571]);
  const y = d3.scaleBand().domain(d3.range(fLabels.length)).range([1099, 1432]);
  const slotX = d3.scaleLinear().domain([0, 46]).range([719.6, 1571]);
  const barX = d3.scaleLinear().domain([0, 30]).range([709, 1561]);
  return (
    <g>
      <g shapeRendering="crispEdges">
        {fValues.map((row, r) => row && row.map((v, i) => (
          <rect key={`${r}-${i}`} x={x(slots[i])} y={y(r)} width={x.bandwidth() + 0.4} height={y.bandwidth() + 0.4} fill={colorF(v)} />
        )))}
      </g>
      <line x1={718} x2={1574} y1={1097.5} y2={1097.5} stroke="#111" strokeWidth={3} />
      <line x1={718} x2={1574} y1={1433} y2={1433} stroke="#111" strokeWidth={3} />
      <line x1={719} x2={719} y1={1096} y2={1434} stroke="#111" strokeWidth={2} />
      <line x1={1572} x2={1572} y1={1096} y2={1434} stroke="#111" strokeWidth={2.5} />
      {fLabels.map((label, r) => (
        <g key={r} transform={`translate(0,${y(r) + y.bandwidth() / 2})`}>
          <line x1={711} x2={717} stroke="#111" strokeWidth={2.5} />
          <text x={708} dy="0.35em" textAnchor="end" fontFamily={sans} fontStyle="italic" fontSize={18.1} fill="#111">{label}</text>
        </g>
      ))}
      <g fontFamily={sans} fontWeight="bold" fontStyle="italic" fontSize={20.6} fill="#222">
        <text transform="translate(326,1234) rotate(-90)">Lachnospiraceae/</text>
        <text transform="translate(351,1234) rotate(-90)">Ruminococcaceae</text>
        <text transform="translate(326,1467) rotate(-90)">Non-Lachnospiraceae/</text>
        <text transform="translate(351,1467) rotate(-90)">Ruminococcaceae</text>
      </g>
      <text x={631} y={1460} dy="0.35em" fontFamily={sans} fontSize={21} fill="#222">Participant ID</text>
      {fGroupNames.map((g, i) => (
        <text key={g} x={slotX(fGroupLabelSlots[i])} y={1460} dy="0.35em" textAnchor="middle" fontFamily={sans} fontSize={18} fill="#222">{g}</text>
      ))}
      <rect x={709} y={1496} width={852} height={29} fill="url(#gradF)" stroke="#111" strokeWidth={2.5} />
      {fBarTicks.map((t) => (
        <g key={t}>
          {t > 0 && t < 30 && (
            <>
              <line x1={barX(t)} x2={barX(t)} y1={1496} y2={1501} stroke="#111" strokeWidth={1.5} />
              <line x1={barX(t)} x2={barX(t)} y1={1520} y2={1525} stroke="#111" strokeWidth={1.5} />
            </>
          )}
          <text x={barX(t)} y={1547} dy="0.35em" textAnchor="middle" fontFamily={sans} fontSize={17} fill="#222">{t}</text>
        </g>
      ))}
    </g>
  );
}

function PanelG() {
  const x = d3.scalePoint().domain([0, 1, 2]).range([140, 320]);
  const y = d3.scaleLinear().domain([0, 100]).range([1776.3, 1527.7]);
  const slot = d3.scaleLinear().domain([-1, 1]).range([-7.33, 7.33]);
  const groups = [taxaLachno, taxaBrucella, taxaGamma];
  return (
    <g>
      {groups.map((pts, g) => (
        <g key={g}>
          {pts.map(([s, v], i) => (
            <circle key={i} cx={x(g) + slot(s)} cy={y(v)} r={4.3} fill="#0b0b0b" />
          ))}
          <line x1={x(g) - 30} x2={x(g) + 30} y1={y(taxaMeans[g])} y2={y(taxaMeans[g])} stroke="#111" strokeWidth={1.8} />
          <line x1={x(g)} x2={x(g)} y1={1776} y2={1785} stroke="#111" strokeWidth={1.8} />
        </g>
      ))}
      <line x1={79.3} x2={79.3} y1={1527} y2={1777} stroke="#111" strokeWidth={1.8} />
      <line x1={71} x2={380} y1={1776.3} y2={1776.3} stroke="#111" strokeWidth={1.8} />
      {taxaTicks.map((t) => (
        <g key={t}>
          <line x1={72} x2={79} y1={y(t)} y2={y(t)} stroke="#111" strokeWidth={1.8} />
          <text x={69} y={y(t)} dy="0.36em" textAnchor="end" fontFamily={narrow} fontWeight="bold" fontSize={15.5} fill="#222">{t}</text>
        </g>
      ))}
      <text transform="translate(29,1650) rotate(-90)" dy="0.36em" textAnchor="middle" fontFamily={sans} fontWeight="bold" fontSize={19.3} fill="#222">% of Taxa Bound</text>
      <g fill="none" stroke="#333" strokeWidth={1.8}>
        <path d="M140 1559 V1528.5 H320 V1559" />
        <path d="M140 1584 V1571 H226 V1733" />
        <path d="M233.3 1733 V1571 H320 V1726.5" />
      </g>
      <g fontFamily={sans} fontWeight="bold" fontSize={24} fill="#222" textAnchor="middle">
        <text x={232} y={1525} letterSpacing={2.5}>****</text>
        <text x={185} y={1567} letterSpacing={2.5}>****</text>
      </g>
      <text x={276.7} y={1557} dy="0.35em" textAnchor="middle" fontFamily={sans} fontSize={14} fill="#333">ns</text>
      <g fontFamily={sans} fontStyle="italic" fontSize={16.4} fill="#333" textAnchor="end">
        <text transform="translate(138,1806) rotate(-44)">Lachnospiraceae &amp;</text>
        <text transform="translate(158,1824) rotate(-44)">Ruminococcaceae</text>
        <text transform="translate(229,1808) rotate(-44)">Rhizobiales/</text>
        <text transform="translate(248,1824) rotate(-44)">Brucellaceae</text>
        <text transform="translate(319,1804) rotate(-44)">Gammaproteobacteria/</text>
        <text transform="translate(339,1820) rotate(-44)">Unspecified</text>
      </g>
    </g>
  );
}

function Speckle({ id, gain, cut }) {
  return (
    <filter id={id} x="-10%" y="-10%" width="120%" height="120%">
      <feTurbulence type="fractalNoise" baseFrequency="0.75" numOctaves="2" seed="7" result="n" />
      <feColorMatrix in="n" type="matrix" values={`0 0 0 0 0 0 0 0 0 0 0 0 0 0 0 0 0 0 ${gain} ${cut}`} result="mask" />
      <feGaussianBlur in="SourceGraphic" stdDeviation="5" result="g" />
      <feComposite in="g" in2="mask" operator="in" />
    </filter>
  );
}

export default function App() {
  return (
    <svg width={1636} height={1920} viewBox="0 0 1636 1920" style={{ position: 'absolute', left: 0, top: 0, background: '#fff' }}>
      <defs>
        <linearGradient id="gradA">
          {aColorStops.map((v, i) => <stop key={v} offset={v / 5000} stopColor={aColors[i]} />)}
        </linearGradient>
        <linearGradient id="gradF">
          {fColorStops.map((v, i) => <stop key={v} offset={v / 30} stopColor={fColors[i]} />)}
        </linearGradient>
        <filter id="soft2"><feGaussianBlur stdDeviation="1.5" /></filter>
        <filter id="soft3"><feGaussianBlur stdDeviation="2.5" /></filter>
        <filter id="soft4"><feGaussianBlur stdDeviation="3.5" /></filter>
        <filter id="soft6" x="-30%" y="-30%" width="160%" height="160%"><feGaussianBlur stdDeviation="6" /></filter>
        <Speckle id="speckle" gain={14} cut={-6.6} />
        <Speckle id="speckleThin" gain={30} cut={-20.6} />
        <Speckle id="speckleRare" gain={30} cut={-22.5} />
      </defs>
      <Letter x={13} y={32}>A</Letter>
      <Letter x={1100} y={31}>B</Letter>
      <Letter x={16} y={767}>C</Letter>
      <Letter x={787} y={767}>D</Letter>
      <Letter x={2} y={1047}>E</Letter>
      <Letter x={282} y={1047}>F</Letter>
      <Letter x={4} y={1491}>G</Letter>
      <PanelA />
      <PanelB />
      <PanelC />
      <PanelD />
      <PanelE />
      <PanelF />
      <PanelG />
    </svg>
  );
}
